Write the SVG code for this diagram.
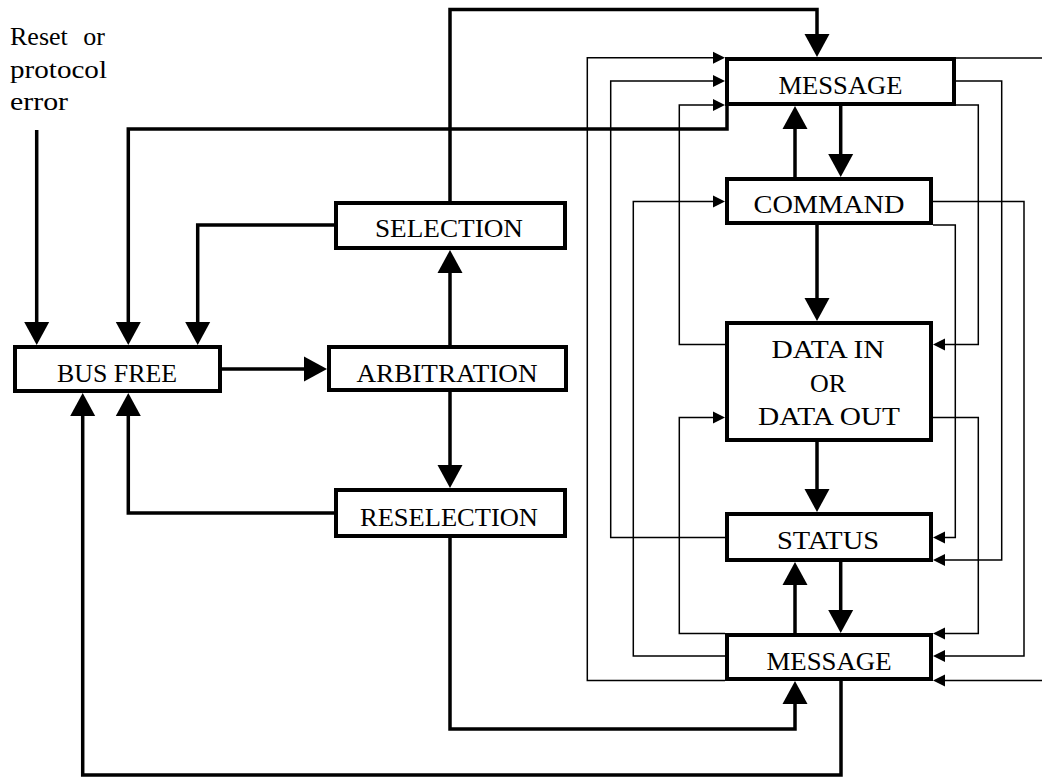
<svg xmlns="http://www.w3.org/2000/svg" width="1042" height="777" viewBox="0 0 1042 777">
<style>
.box{fill:#fff;stroke:#000;stroke-width:4}
.lbl{font-family:"Liberation Serif","Times New Roman",serif;font-size:26px;fill:#000;text-anchor:middle}
.note{font-family:"Liberation Serif","Times New Roman",serif;font-size:26px;fill:#000}
.thick{fill:none;stroke:#000;stroke-width:3.5;marker-end:url(#big)}
.thin{fill:none;stroke:#000;stroke-width:1.5;marker-end:url(#small)}
</style>
<defs>
<marker id="big" markerUnits="userSpaceOnUse" markerWidth="24" markerHeight="26" refX="3" refY="12.5" orient="auto" viewBox="0 0 24 25">
<path d="M0,0 L23,12.5 L0,25 Z" fill="#000"/>
</marker>
<marker id="small" markerUnits="userSpaceOnUse" markerWidth="13" markerHeight="13" refX="2" refY="6" orient="auto" viewBox="0 0 13 12">
<path d="M0,0 L12,6 L0,12 Z" fill="#000"/>
</marker>
</defs>
<rect width="1042" height="777" fill="#fff"/>
<g id="reset-label">
<text class="note" x="10" y="45" word-spacing="9">Reset or</text>
<text class="note" x="10" y="78" textLength="97" lengthAdjust="spacingAndGlyphs">protocol</text>
<text class="note" x="10" y="110" textLength="58" lengthAdjust="spacingAndGlyphs">error</text>
</g>
<g id="connectors">
<path class="thick" d="M36.7,130 V325"/>
<path class="thick" d="M727,104 V129 H128.3 V325"/>
<path class="thick" d="M334,225 H197.7 V325"/>
<path class="thick" d="M222,369 H307"/>
<path class="thick" d="M450,345 V270"/>
<path class="thick" d="M450,201 V9.5 H817 V37"/>
<path class="thick" d="M450,392 V468"/>
<path class="thick" d="M334,513 H128.3 V413"/>
<path class="thick" d="M450,538 V729 H795 V701"/>
<path class="thick" d="M841,681 V775 H82.7 V413"/>
<path class="thick" d="M840.7,106 V157"/>
<path class="thick" d="M795,177 V126"/>
<path class="thick" d="M817,225 V301"/>
<path class="thick" d="M817,442 V492"/>
<path class="thick" d="M840.7,562 V613"/>
<path class="thick" d="M795,633 V582"/>
<path class="thin" d="M725,680.5 H587.3 V57.7 H715"/>
<path class="thin" d="M725,537.5 H610.7 V81 H715"/>
<path class="thin" d="M725,656 H633.3 V201.5 H715"/>
<path class="thin" d="M725,344.5 H679.3 V105 H715"/>
<path class="thin" d="M725,633.5 H679.3 V417.5 H715"/>
<path class="thin" d="M956,58 H1046 V680.5 H943"/>
<path class="thin" d="M956,81 H1001.7 V560 H943"/>
<path class="thin" d="M956,105 H978.3 V344.5 H943"/>
<path class="thin" d="M933,201.5 H1024 V656 H943"/>
<path class="thin" d="M933,225 H955.3 V537.5 H943"/>
<path class="thin" d="M933,417.5 H978.3 V633.5 H943"/>
</g>
<g id="bus-free">
<rect class="box" x="15" y="347" width="205" height="44"/>
<text class="lbl" x="117" y="381.5" textLength="120" lengthAdjust="spacingAndGlyphs">BUS FREE</text>
</g>
<g id="arbitration">
<rect class="box" x="329" y="347" width="237" height="43"/>
<text class="lbl" x="447" y="381.5" textLength="181" lengthAdjust="spacingAndGlyphs">ARBITRATION</text>
</g>
<g id="selection">
<rect class="box" x="336" y="203" width="229" height="45"/>
<text class="lbl" x="449" y="237" textLength="148" lengthAdjust="spacingAndGlyphs">SELECTION</text>
</g>
<g id="reselection">
<rect class="box" x="336" y="490" width="229" height="46"/>
<text class="lbl" x="449" y="526" textLength="178" lengthAdjust="spacingAndGlyphs">RESELECTION</text>
</g>
<g id="message-top">
<rect class="box" x="727" y="59" width="227" height="45"/>
<text class="lbl" x="840.5" y="94" textLength="124" lengthAdjust="spacingAndGlyphs">MESSAGE</text>
</g>
<g id="command">
<rect class="box" x="727" y="179" width="204" height="44"/>
<text class="lbl" x="829" y="213" textLength="151" lengthAdjust="spacingAndGlyphs">COMMAND</text>
</g>
<g id="data">
<rect class="box" x="727" y="323" width="204" height="117"/>
<text class="lbl" x="828" y="358" textLength="113" lengthAdjust="spacingAndGlyphs">DATA IN</text>
<text class="lbl" x="828" y="391.5">OR</text>
<text class="lbl" x="829" y="425" textLength="142" lengthAdjust="spacingAndGlyphs">DATA OUT</text>
</g>
<g id="status">
<rect class="box" x="727" y="514" width="204" height="46"/>
<text class="lbl" x="828" y="549" textLength="102" lengthAdjust="spacingAndGlyphs">STATUS</text>
</g>
<g id="message-bottom">
<rect class="box" x="727" y="635" width="204" height="44"/>
<text class="lbl" x="829" y="670" textLength="125" lengthAdjust="spacingAndGlyphs">MESSAGE</text>
</g>
</svg>
